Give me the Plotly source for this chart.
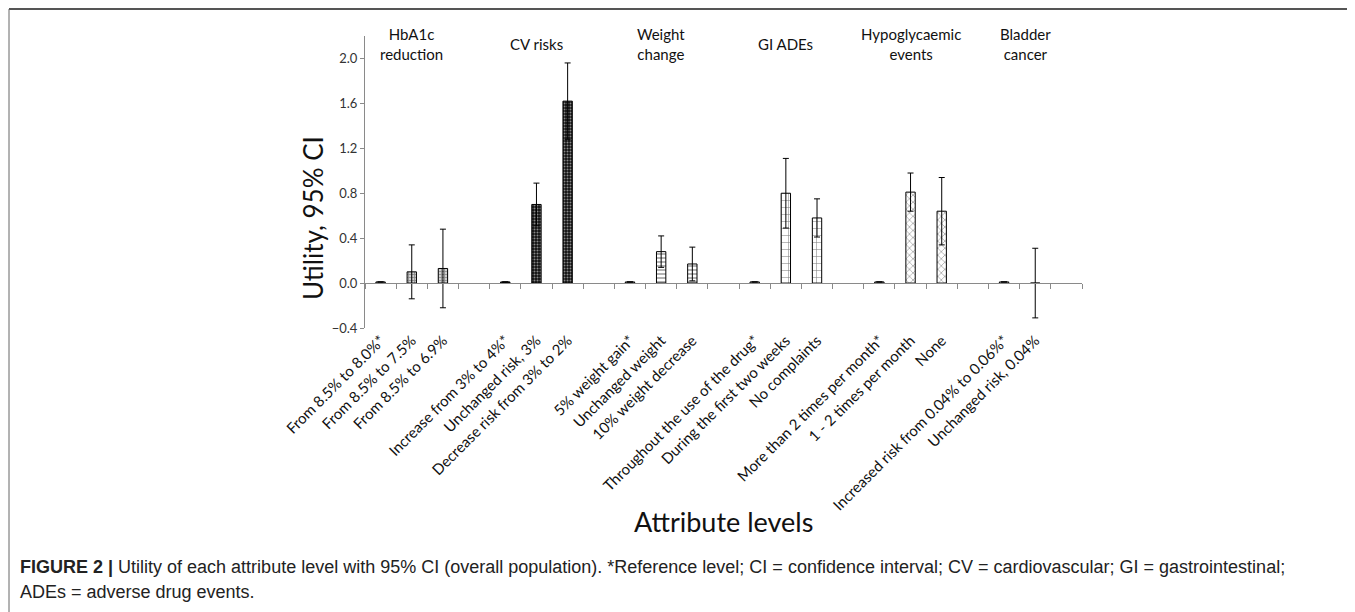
import plotly.graph_objects as go

# ---------------- data ----------------
slot_labels = [
    "From 8.5% to 8.0%*", "From 8.5% to 7.5%", "From 8.5% to 6.9%", "",
    "Increase from 3% to 4%*", "Unchanged risk, 3%", "Decrease risk from 3% to 2%", "",
    "5% weight gain*", "Unchanged weight", "10% weight decrease", "",
    "Throughout the use of the drug*", "During the first two weeks", "No complaints", "",
    "More than 2 times per month*", "1 - 2 times per month", "None", "",
    "Increased risk from 0.04% to 0.06%*", "Unchanged risk, 0.04%", "",
]

groups = ["HbA1c<br>reduction", "CV risks", "Weight<br>change", "GI ADEs",
          "Hypoglycaemic<br>events", "Bladder<br>cancer"]
group_slots = [[0, 1, 2], [4, 5, 6], [8, 9, 10], [12, 13, 14], [16, 17, 18], [20, 21]]
group_header_x = [1, 5, 9, 13, 17, 20.7]

hba1c_util = [0.01, 0.10, 0.13]
hba1c_ci = [0.0, 0.24, 0.35]
cv_util = [0.01, 0.70, 1.62]
cv_ci = [0.0, 0.19, 0.34]
weight_util = [0.01, 0.28, 0.17]
weight_ci = [0.0, 0.14, 0.15]
gi_util = [0.01, 0.80, 0.58]
gi_ci = [0.0, 0.31, 0.17]
hypo_util = [0.01, 0.81, 0.64]
hypo_ci = [0.0, 0.17, 0.30]
bladder_util = [0.01, 0.0]
bladder_ci = [0.0, 0.31]

y_ticks = [-0.4, 0.0, 0.4, 0.8, 1.2, 1.6, 2.0]

# ---------------- layout geometry ----------------
OFF = 8                      # default page body margin
W, H = 1355 - OFF, 612 - OFF
PLOT_L, PLOT_R, PLOT_T, PLOT_B = 365, 1082, 36, 328   # page pixels
L, R = PLOT_L - OFF, W - (PLOT_R - OFF)
T, B = PLOT_T - OFF, H - (PLOT_B - OFF)
PW, PH = PLOT_R - PLOT_L, PLOT_B - PLOT_T
YMIN, YMAX = -0.4, 2.2
NSLOT = len(slot_labels)


def px_x(px):
    return (px - PLOT_L) / PW


def px_y(py):
    return (PLOT_B - py) / PH


AX = "#8a8a8a"
FONT = "Lato"

patterns = [
    dict(shape="+", size=3, fgcolor="#3a3a3a", bgcolor="#cfcfcf", solidity=0.45),
    dict(shape=".", size=3, fgcolor="#ffffff", bgcolor="#111111", solidity=0.35),
    dict(shape="-", size=4, fgcolor="#000000", bgcolor="#ffffff", solidity=0.3),
    dict(shape="+", size=7, fgcolor="#000000", bgcolor="#ffffff", solidity=0.15),
    dict(shape="x", size=5, fgcolor="#000000", bgcolor="#ffffff", solidity=0.2),
    dict(shape="", fgcolor="#000000", bgcolor="#000000"),
]

utils = [hba1c_util, cv_util, weight_util, gi_util, hypo_util, bladder_util]
cis = [hba1c_ci, cv_ci, weight_ci, gi_ci, hypo_ci, bladder_ci]

fig = go.Figure()
for g in range(len(groups)):
    fig.add_trace(go.Bar(
        x=group_slots[g], y=utils[g],
        width=0.3,
        marker=dict(color="white", line=dict(color="black", width=1),
                    pattern=patterns[g]),
        error_y=dict(type="data", array=cis[g], visible=True,
                     color="black", thickness=1, width=3),
        showlegend=False, hoverinfo="skip",
    ))

# dummy trace to register the zero-line axis
fig.add_trace(go.Scatter(x=[], y=[], xaxis="x2", yaxis="y", showlegend=False))

annotations = []
for g, name in enumerate(groups):
    annotations.append(dict(
        x=group_header_x[g], y=px_y(44), xref="x", yref="paper",
        text=name, showarrow=False, xanchor="center", yanchor="middle",
        font=dict(family=FONT, size=15, color="#111111"), align="center"))

annotations += [
    dict(x=px_x(313), y=px_y(218), xref="paper", yref="paper",
         text="Utility, 95% CI", textangle=-90, showarrow=False,
         xanchor="center", yanchor="middle",
         font=dict(family=FONT, size=26, color="#111111")),
    dict(x=px_x(723), y=px_y(521), xref="paper", yref="paper",
         text="Attribute levels", showarrow=False,
         xanchor="center", yanchor="middle",
         font=dict(family=FONT, size=27, color="#111111")),
    dict(x=px_x(18), y=px_y(567), xref="paper", yref="paper",
         text="<b>FIGURE 2 |</b> Utility of each attribute level with 95% CI (overall population). "
              "*Reference level; CI = confidence interval; CV = cardiovascular; GI = gastrointestinal;",
         showarrow=False, xanchor="left", yanchor="middle",
         font=dict(family="Liberation Sans", size=18, color="#222222")),
    dict(x=px_x(18), y=px_y(592), xref="paper", yref="paper",
         text="ADEs = adverse drug events.",
         showarrow=False, xanchor="left", yanchor="middle",
         font=dict(family="Liberation Sans", size=18, color="#222222")),
]

shapes = [
    dict(type="line", xref="paper", yref="paper", x0=px_x(9), x1=px_x(1352),
         y0=px_y(9), y1=px_y(9), line=dict(color="#555555", width=2)),
    dict(type="line", xref="paper", yref="paper", x0=px_x(9), x1=px_x(9),
         y0=px_y(9), y1=px_y(640), line=dict(color="#666666", width=1)),
    dict(type="line", xref="paper", yref="paper", x0=px_x(1352), x1=px_x(1352),
         y0=px_y(9), y1=px_y(640), line=dict(color="#666666", width=1)),
]

fig.update_layout(
    width=W, height=H,
    margin=dict(l=L, r=R, t=T, b=B, autoexpand=False),
    paper_bgcolor="white", plot_bgcolor="white",
    barmode="overlay",
    xaxis=dict(
        range=[-0.5, NSLOT - 0.5], tickmode="array",
        tickvals=list(range(NSLOT)), ticktext=slot_labels,
        tickangle=-45, ticks="", showline=False, showgrid=False, zeroline=False,
        tickfont=dict(family=FONT, size=15, color="#111111"),
    ),
    xaxis2=dict(
        overlaying="x", anchor="free", position=(0 - YMIN) / (YMAX - YMIN),
        range=[-0.5, NSLOT - 0.5], tickmode="array",
        tickvals=[i - 0.5 for i in range(NSLOT + 1)],
        ticks="outside", ticklen=5, tickcolor=AX, tickwidth=1,
        showticklabels=False, showline=True, linecolor=AX, linewidth=1,
        showgrid=False, zeroline=False,
    ),
    yaxis=dict(
        range=[YMIN, YMAX], tickmode="array", tickvals=y_ticks,
        tickformat=".1f", ticks="outside", ticklen=4, tickcolor=AX,
        showline=True, linecolor=AX, linewidth=1, showgrid=False, zeroline=False,
        tickfont=dict(family=FONT, size=13, color="#333333"),
    ),
    annotations=annotations,
    shapes=shapes,
)

fig.write_html("out.html")
